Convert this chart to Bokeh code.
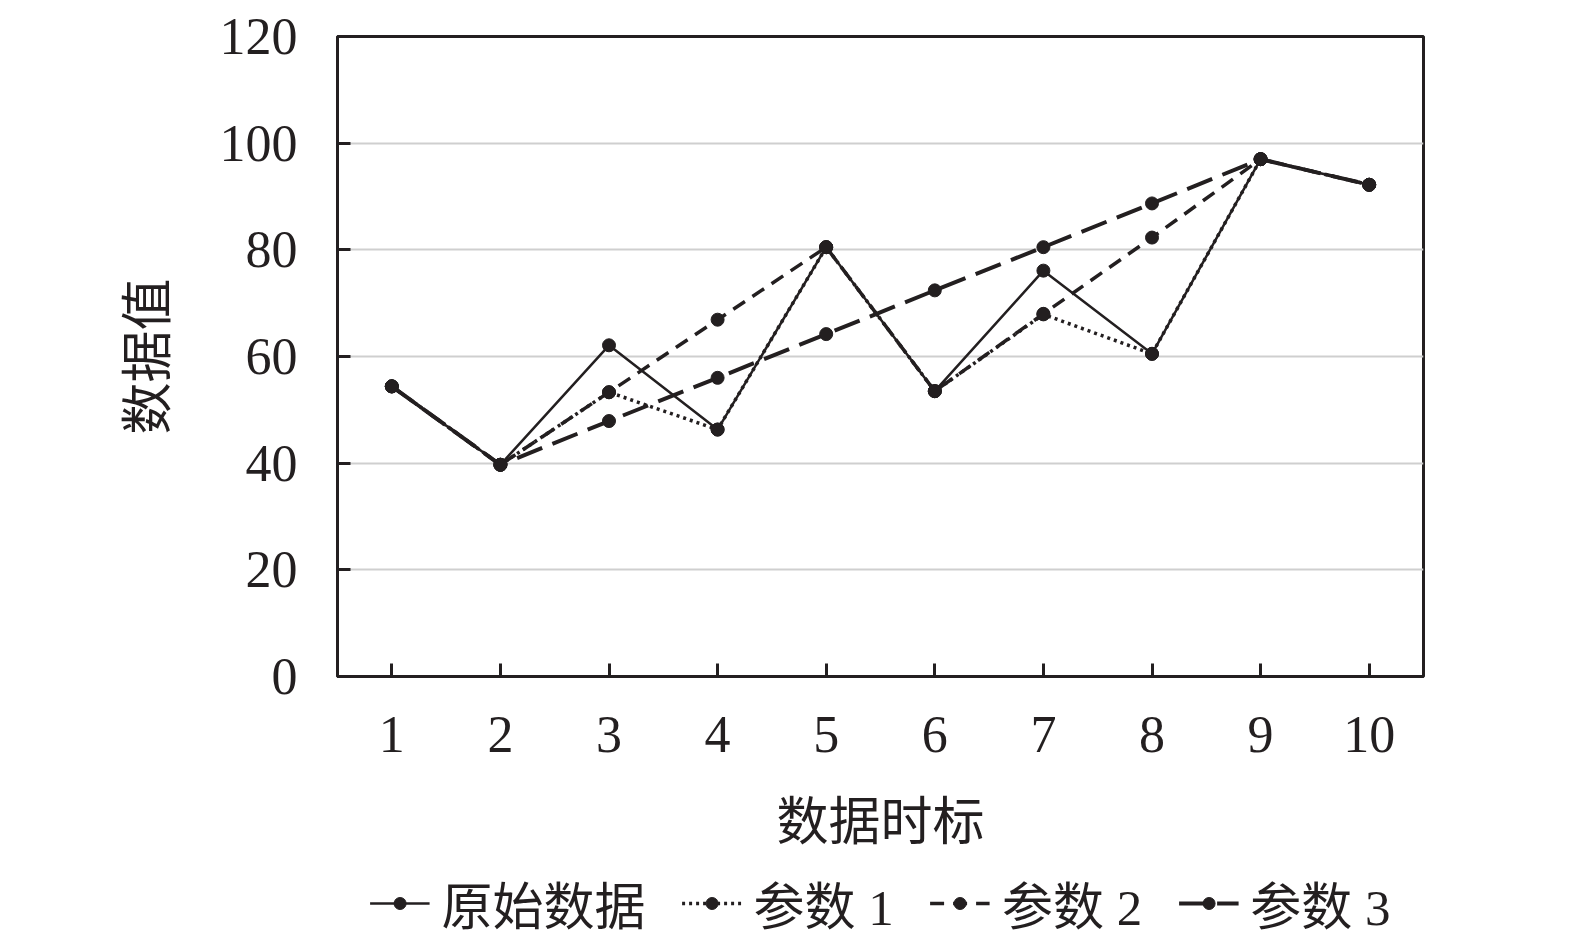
from bokeh.plotting import figure
from bokeh.models import FixedTicker, Range1d, Legend, LegendItem
from bokeh.layouts import column
from bokeh.embed import file_html
from bokeh.resources import INLINE

# ---- data ----
x_ticks = [1, 2, 3, 4, 5, 6, 7, 8, 9, 10]
y_ticks = [0, 20, 40, 60, 80, 100, 120]
original = [54.4, 39.7, 62.1, 46.3, 80.5, 53.5, 76.1, 60.5, 97.0, 92.2]
param1 = [54.4, 39.7, 53.3, 46.3, 80.5, 53.5, 67.9, 60.5, 97.0, 92.2]
param2 = [54.4, 39.7, 53.3, 66.9, 80.5, 53.5, 68.0, 82.3, 97.0, 92.2]
param3 = [54.4, 39.7, 47.9, 56.0, 64.2, 72.4, 80.5, 88.7, 97.0, 92.2]
series_labels = ["原始数据", "参数 1", "参数 2", "参数 3"]
x_label = "数据时标"
y_label = "数据值"

INK = "#231f20"
SERIF = "Liberation Serif, Noto Sans CJK SC"
CJK = "Noto Sans CJK SC"
FIG_W = 337 + 1086 + 10

p = figure(frame_width=1086, frame_height=640,
           x_range=Range1d(0.5, 10.5), y_range=Range1d(0, 120),
           output_backend="svg", toolbar_location=None,
           min_border_left=337, min_border_right=10,
           min_border_top=36, min_border_bottom=0)

p.outline_line_color = INK
p.outline_line_width = 3
p.background_fill_color = "white"
p.border_fill_color = "white"

p.xgrid.visible = False
p.ygrid.grid_line_color = "#cfcfcf"
p.ygrid.grid_line_width = 2
p.ygrid.ticker = FixedTicker(ticks=y_ticks)

p.xaxis.ticker = FixedTicker(ticks=x_ticks)
p.yaxis.ticker = FixedTicker(ticks=y_ticks)
for ax in (p.xaxis, p.yaxis):
    ax.axis_line_color = INK
    ax.axis_line_width = 3
    ax.major_tick_in = 13
    ax.major_tick_out = 0
    ax.major_tick_line_color = INK
    ax.major_tick_line_width = 3
    ax.minor_tick_line_color = None
    ax.major_label_text_font = SERIF
    ax.major_label_text_font_size = "52px"
    ax.major_label_text_color = INK
    ax.axis_label_text_font = CJK
    ax.axis_label_text_font_size = "52px"
    ax.axis_label_text_font_style = "normal"
    ax.axis_label_text_color = INK

p.xaxis.axis_label = x_label
p.yaxis.axis_label = y_label
p.xaxis.major_label_standoff = 40
p.xaxis.axis_label_standoff = 25
p.yaxis.major_label_standoff = 40
p.yaxis.axis_label_standoff = 36

styles = [
    (original, "solid", 2.5),
    (param1, "3 4", 3.5),
    (param2, "14 9", 3.5),
    (param3, "27 11", 4),
]

for vals, dash, lw in styles:
    p.line(x_ticks, vals, line_color=INK, line_width=lw, line_dash=dash)
    p.scatter(x_ticks, vals, marker="circle", size=13,
              fill_color=INK, line_color=INK)

# legend strip (a second figure holding only the legend)
q = figure(width=FIG_W, height=92,
           x_range=Range1d(100, 101), y_range=Range1d(0, 120),
           output_backend="svg", toolbar_location=None,
           x_axis_location=None, y_axis_location=None,
           min_border_left=0, min_border_right=0,
           min_border_top=0, min_border_bottom=0)
q.outline_line_color = None
q.xgrid.visible = False
q.ygrid.visible = False

items = []
for (vals, dash, lw), lab in zip(styles, series_labels):
    r_line = q.line(x_ticks, vals, line_color=INK, line_width=lw, line_dash=dash)
    r_pts = q.scatter(x_ticks, vals, marker="circle", size=13,
                      fill_color=INK, line_color=INK)
    items.append(LegendItem(label=lab, renderers=[r_line, r_pts]))

legend = Legend(items=items, orientation="horizontal", location="center",
                border_line_alpha=0, background_fill_alpha=0,
                label_text_font=SERIF, label_text_font_size="51px",
                label_text_color=INK,
                glyph_width=60, glyph_height=30, label_standoff=12,
                spacing=36, padding=0, margin=0)
q.add_layout(legend, "center")

open("out.html", "w").write(file_html(column(p, q, spacing=0), INLINE))
